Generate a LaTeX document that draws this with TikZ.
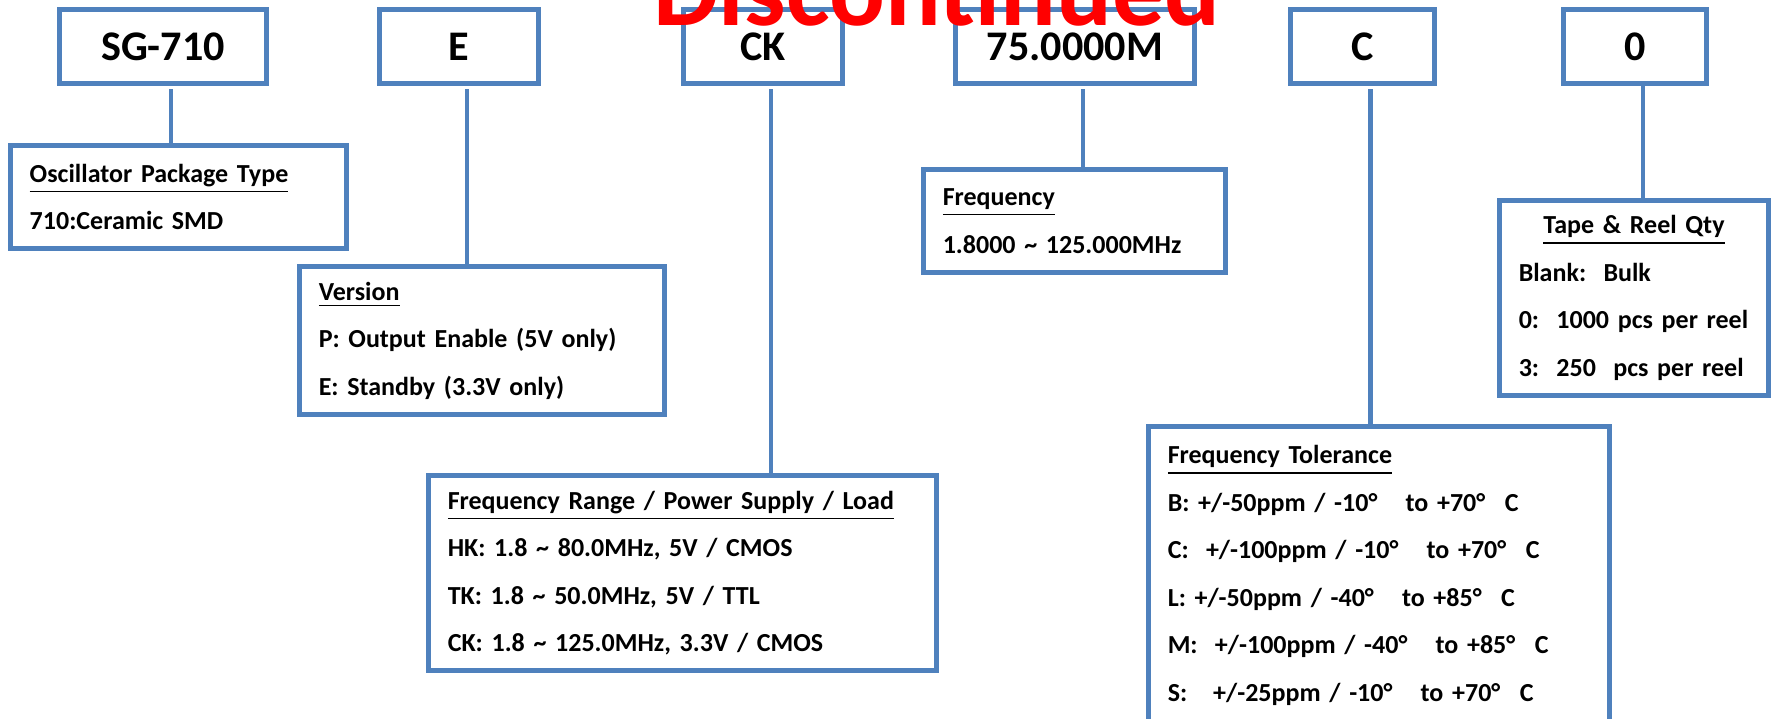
\documentclass[tikz,border=0pt]{standalone}
\usepackage{fontspec}
\setmainfont{Carlito}
\definecolor{boxblue}{HTML}{4F81BD}
\newcommand{\dg}{°\hspace{.75em}}

\begin{document}
\begin{tikzpicture}[
  code/.style={draw=boxblue, line width=1.3pt, rectangle, minimum height=7.45mm,
    font=\fontsize{12}{14}\selectfont\bfseries},
  info/.style={draw=boxblue, line width=1.3pt, rectangle, inner xsep=1.95mm, inner ysep=0pt,
    align=left, font=\fontsize{7.4}{13.5}\selectfont\bfseries},
  link/.style={draw=boxblue, line width=1.3pt}]
\useasboundingbox (0,0) rectangle (17.71,-7.19);
\begin{scope}
\node[code, minimum width=20.75mm] (sg) at (1.63,-0.465) {SG-710};
\node[code, minimum width=15.95mm] (ver) at (4.59,-0.465) {E};
\node[code, minimum width=15.95mm] (rng) at (7.63,-0.465) {CK};
\node[code, minimum width=23.95mm] (frq) at (10.75,-0.465) {75.0000M};
\node[code, minimum width=14.45mm] (tol) at (13.625,-0.465) {C};
\node[code, minimum width=14.35mm] (qty) at (16.35,-0.465) {0};
\node[info, text width=29.75mm, minimum height=10.35mm] (sginfo) at (1.785,-1.97)
  {\underline{Oscillator Package Type}\\710:Ceramic SMD};
\node[info, text width=32.65mm, minimum height=14.85mm] (verinfo) at (4.82,-3.405)
  {\underline{Version}\\P: Output Enable (5V only)\\E: Standby (3.3V only)};
\node[info, text width=46.95mm, minimum height=19.55mm] (rnginfo) at (6.825,-5.73)
  {\underline{Frequency Range / Power Supply / Load}\\HK: 1.8 \textasciitilde{} 80.0MHz, 5V / CMOS\\TK: 1.8 \textasciitilde{} 50.0MHz, 5V / TTL\\CK: 1.8 \textasciitilde{} 125.0MHz, 3.3V / CMOS};
\node[info, text width=26.35mm, minimum height=10.35mm] (frqinfo) at (10.745,-2.21)
  {\underline{Frequency}\\1.8000 \textasciitilde{} 125.000MHz};
\node[info, text width=42.25mm, minimum height=29.85mm] (tolinfo) at (13.79,-5.755)
  {\underline{Frequency Tolerance}\\B: +/-50ppm / -10\dg{} to +70\dg{}C\\C:\ \ +/-100ppm / -10\dg{} to +70\dg{}C\\L: +/-50ppm / -40\dg{} to +85\dg{}C\\M:\ \ +/-100ppm / -40\dg{} to +85\dg{}C\\S:\ \ \ +/-25ppm / -10\dg{} to +70\dg{}C};
\node[info, text width=23.05mm, minimum height=19.55mm] (qtyinfo) at (16.34,-2.98)
  {\null\hfill\underline{Tape \& Reel Qty}\hfill\null\\Blank:\ \ Bulk\\0:\ \ 1000 pcs per reel\\3:\ \ 250\ \ pcs per reel};
\coordinate (sgtap) at ([xshift=.8mm,yshift=-.3mm]sg.south);
\coordinate (vertap) at ([xshift=.8mm,yshift=-.3mm]ver.south);
\coordinate (rngtap) at ([xshift=.8mm,yshift=-.3mm]rng.south);
\coordinate (frqtap) at ([xshift=.8mm,yshift=-.3mm]frq.south);
\coordinate (toltap) at ([xshift=.8mm,yshift=-.3mm]tol.south);
\coordinate (qtytap) at ([xshift=.8mm]qty.south);
\draw[link] (sgtap) -- (sgtap |- sginfo.north);
\draw[link] (vertap) -- (vertap |- verinfo.north);
\draw[link] (rngtap) -- (rngtap |- rnginfo.north);
\draw[link] (frqtap) -- (frqtap |- frqinfo.north);
\draw[link] (toltap) -- (toltap |- tolinfo.north);
\draw[link] (qtytap) -- (qtytap |- qtyinfo.north);
\node[text=red, anchor=base, font=\fontsize{29.6}{30}\selectfont\bfseries] (stamp) at (9.37,-0.26) {Discontinued};
\end{scope}
\end{tikzpicture}
\end{document}
